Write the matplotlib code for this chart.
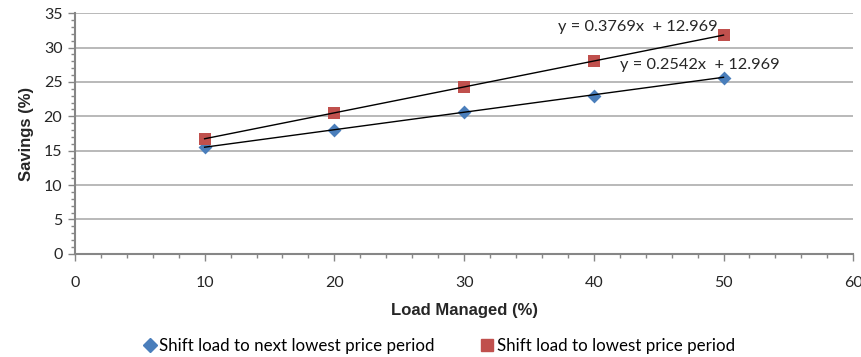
import matplotlib.pyplot as plt
from matplotlib.ticker import MultipleLocator
from matplotlib.lines import Line2D
import numpy as np

plt.rcParams['font.family'] = ['Lato', 'DejaVu Sans']

load_managed = [10, 20, 30, 40, 50]
next_lowest = [15.5, 18.0, 20.6, 23.0, 25.6]
lowest = [16.7, 20.5, 24.2, 28.1, 31.8]

fit_next = (0.2542, 12.969)
fit_lowest = (0.3769, 12.969)

label_next = "Shift load to next lowest price period"
label_lowest = "Shift load to lowest price period"

blue = "#4a7ebb"
red = "#c0504d"
axis_grey = "#868686"
grid_grey = "#a6a6a6"
text_col = "#262626"

fig = plt.figure(figsize=(8.61, 3.57), dpi=100)
ax = fig.add_axes([0.087, 0.289, 0.904, 0.674])

ax.set_xlim(0, 60)
ax.set_ylim(0, 35)

ax.yaxis.set_major_locator(MultipleLocator(5))
ax.yaxis.set_minor_locator(MultipleLocator(1))
ax.xaxis.set_major_locator(MultipleLocator(10))
ax.xaxis.set_minor_locator(MultipleLocator(2))

ax.grid(axis='y', which='major', color=grid_grey, linewidth=1.1, zorder=0)
ax.set_axisbelow(True)

for s in ['top', 'right']:
    ax.spines[s].set_visible(False)
for s in ['left', 'bottom']:
    ax.spines[s].set_color(axis_grey)
    ax.spines[s].set_linewidth(1.5)

ax.tick_params(axis='both', which='major', direction='out', length=5, width=1,
               color=axis_grey, labelsize=11.5, labelcolor=text_col)
ax.tick_params(axis='both', which='minor', direction='out', length=3, width=1,
               color=axis_grey)
ax.tick_params(axis='x', which='major', pad=11)
ax.tick_params(axis='y', which='major', pad=4)

# Linear trendlines over the data range
xs = np.array([load_managed[0], load_managed[-1]])
ax.plot(xs, fit_next[0] * xs + fit_next[1], color='black', linewidth=1, zorder=4)
ax.plot(xs, fit_lowest[0] * xs + fit_lowest[1], color='black', linewidth=1, zorder=4)

ax.scatter(load_managed, next_lowest, marker='D', s=50, color=blue, zorder=3,
           linewidths=0)
ax.scatter(load_managed, lowest, marker='s', s=85, color=red, zorder=3,
           linewidths=0)

ax.text(43.4, 33.0, f"y = {fit_lowest[0]:.4f}x  + {fit_lowest[1]:.3f}",
        fontsize=11.8, color=text_col, va='center', ha='center')
ax.text(48.2, 27.4, f"y = {fit_next[0]:.4f}x  + {fit_next[1]:.3f}",
        fontsize=11.8, color=text_col, va='center', ha='center')

bold_family = ['Liberation Sans', 'DejaVu Sans']
ax.set_xlabel("Load Managed (%)", fontsize=12, fontweight='bold', labelpad=9,
              color=text_col, family=bold_family)
ax.set_ylabel("Savings (%)", fontsize=12, fontweight='bold', labelpad=7,
              color=text_col, family=bold_family)

handles = [
    Line2D([], [], marker='D', linestyle='none', color=blue, markersize=7),
    Line2D([], [], marker='s', linestyle='none', color=red, markersize=9),
]
fig.legend(handles, [label_next, label_lowest], loc='center',
           bbox_to_anchor=(0.509, 0.032), ncol=2, frameon=False, fontsize=12.2,
           handletextpad=0.05, columnspacing=2.6, handlelength=1.0)

fig.savefig("out.png", dpi=100)
